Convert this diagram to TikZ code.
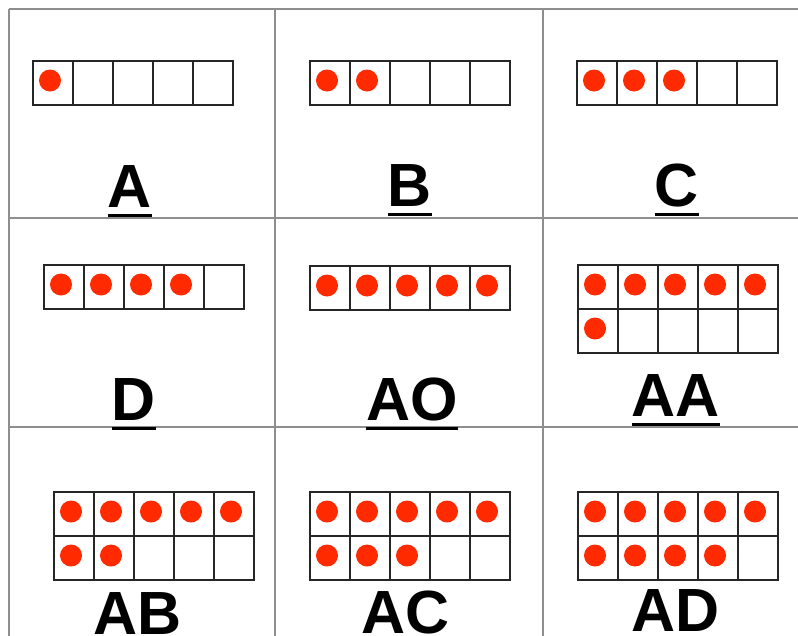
\documentclass[tikz,border=0pt]{standalone}
\usepackage{fontspec}
\setmainfont{Liberation Sans}
\usetikzlibrary{positioning}
\definecolor{dotred}{HTML}{FF2A00}
\definecolor{gridline}{HTML}{8E8E8E}
\definecolor{frameline}{HTML}{262626}
\tikzset{
  cardgrid/.style = {draw=gridline, line width=1.5pt},
  tfcell/.style   = {draw=frameline, line width=1.8pt,
                     minimum width=40pt, minimum height=44pt,
                     inner sep=0pt, outer sep=0pt},
  tfdot/.style    = {circle, fill=dotred, minimum size=22pt, inner sep=0pt},
  cardlbl/.style  = {font=\fontsize{61}{61}\selectfont\bfseries,
                     inner sep=0pt, anchor=base},
  ulbar/.style    = {draw=black, line width=3pt},
}
\begin{document}
\begin{tikzpicture}[x=1pt, y=-1pt]
  \useasboundingbox (0,0) rectangle (798,635);
  \clip (0,0) rectangle (798,635);
  % card grid
  \foreach \gx in {9,275,543}
    \draw[cardgrid] (\gx,9) -- (\gx,640);
  \foreach \gy in {9,218,427}
    \draw[cardgrid] (9,\gy) -- (800,\gy);
  % ten frames: name / left / top / rows / dots / label x / label base / label
  \foreach \nm/\fx/\fy/\rows/\ndots/\lx/\ly/\txt in {
      a/33/61/1/1/130/207/A,
      b/310/61/1/2/410/206/B,
      c/577/61/1/3/677/206/C,
      d/44/265/1/4/134/420/D,
      ao/310/266/1/5/412/420/AO,
      aa/578/265/2/6/676/416/AA,
      ab/54/492/2/7/138/634/AB,
      ac/310/492/2/8/406/633/AC,
      ad/578/492/2/9/676/631/AD} {
    \foreach \r in {1,...,\rows}
      \foreach \c in {1,...,5} {
        \node[tfcell] (\nm-\r-\c) at (\fx+40*\c-20, \fy+44*\r-22) {};
        \pgfmathtruncatemacro\k{(\r-1)*5+\c}
        \ifnum\k>\ndots\relax\else
          \node[tfdot] (\nm-dot-\k) at ([xshift=-3pt, yshift=2.5pt]\nm-\r-\c.center) {};
        \fi
      }
    \node[cardlbl] (lbl-\nm) at (\lx,\ly) {\txt};
    \draw[ulbar] ([yshift=-8pt]lbl-\nm.base west) -- ([yshift=-8pt]lbl-\nm.base east);
  }
\end{tikzpicture}
\end{document}
